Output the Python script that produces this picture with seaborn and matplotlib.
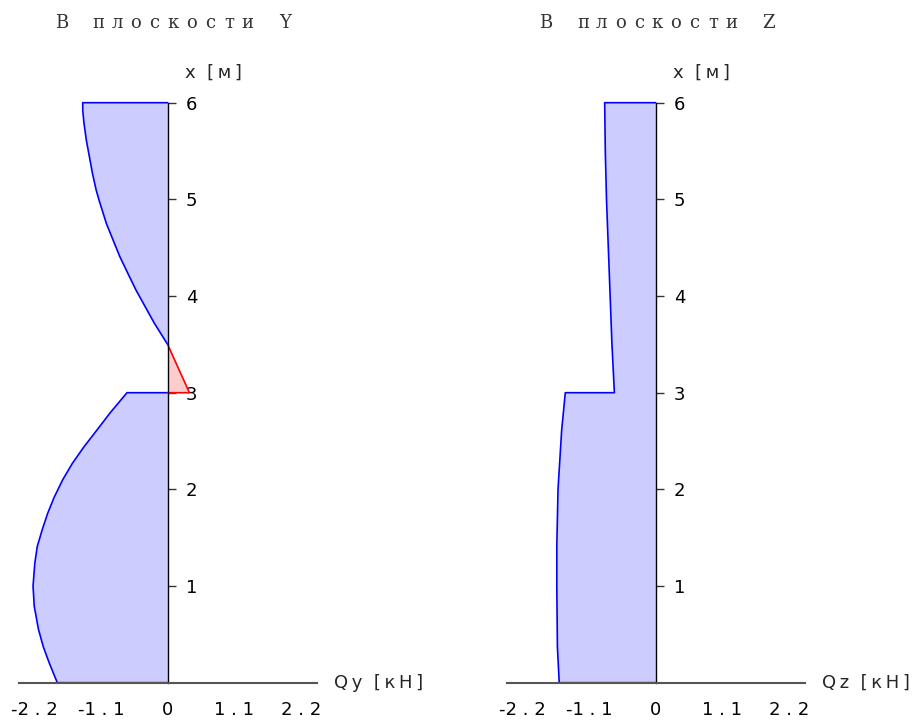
import matplotlib
matplotlib.use("Agg")
import matplotlib.pyplot as plt
import seaborn as sns

# shear force in plane Y, x [m] along the beam, Q [kN]
y_low_x = [0.0, 0.2, 0.37, 0.55, 0.79, 1.0, 1.24, 1.41, 1.58, 1.75, 1.92, 2.10, 2.27, 2.44, 2.61, 2.79, 3.0]
y_low_q = [-1.82, -1.95, -2.05, -2.13, -2.20, -2.22, -2.19, -2.15, -2.07, -1.98, -1.87, -1.73, -1.57, -1.38, -1.17, -0.95, -0.67]
y_pos_x = [3.0, 3.5]
y_pos_q = [0.36, 0.0]
y_up_x = [3.5, 3.72, 3.89, 4.06, 4.24, 4.41, 4.58, 4.75, 4.99, 5.10, 5.27, 5.44, 5.61, 5.79, 5.92, 6.0]
y_up_q = [0.0, -0.22, -0.37, -0.52, -0.66, -0.79, -0.90, -1.01, -1.13, -1.18, -1.24, -1.29, -1.34, -1.38, -1.40, -1.40]

# shear force in plane Z
z_low_x = [0.0, 0.37, 1.0, 1.41, 2.0, 2.61, 3.0]
z_low_q = [-1.59, -1.62, -1.63, -1.63, -1.61, -1.55, -1.49]
z_up_x = [3.0, 3.5, 4.0, 4.5, 5.0, 5.5, 6.0]
z_up_q = [-0.68, -0.72, -0.75, -0.78, -0.81, -0.83, -0.84]

xticks = [-2.2, -1.1, 0, 1.1, 2.2]
xtick_labels = ["-2 . 2", "-1 . 1", "0", "1 . 1", "2 . 2"]
yticks = [1, 2, 3, 4, 5, 6]
titles = ["В плоскости Y", "В плоскости Z"]
q_labels = ["Qy [кН]", "Qz [кН]"]

BLUE, BLUE_FILL = "#0000ff", "#ccccff"
RED, RED_FILL = "#ff0000", "#ffcccc"

sns.set_style("white")
plt.rcParams["font.family"] = ["DejaVu Sans"]


def spaced(s, sep="\u2009"):
    return sep.join(s)


def draw(ax, xs, qs, line_c, fill_c):
    px = [xs[0]] + list(xs) + [xs[-1]]
    pq = [0.0] + list(qs) + [0.0]
    ax.fill_betweenx(px, pq, 0, color=fill_c, lw=0, zorder=1)
    sns.lineplot(x=pq, y=px, sort=False, estimator=None, color=line_c, lw=1.2, ax=ax)
    ax.lines[-1].set_clip_on(False)


W, H = 919, 720
fig = plt.figure(figsize=(W / 100, H / 100), dpi=100)
ax_l = fig.add_axes([18.5 / W, 37.3 / H, 298.2 / W, 580 / H])
ax_r = fig.add_axes([506.5 / W, 37.3 / H, 298.2 / W, 580 / H])

draw(ax_l, y_low_x, y_low_q, BLUE, BLUE_FILL)
draw(ax_l, y_up_x, y_up_q, BLUE, BLUE_FILL)
draw(ax_l, y_pos_x, y_pos_q, RED, RED_FILL)
draw(ax_r, z_low_x + z_up_x, z_low_q + z_up_q, BLUE, BLUE_FILL)

for ax, ql in zip([ax_l, ax_r], q_labels):
    ax.set_xlim(-2.46, 2.46)
    ax.set_ylim(0, 6)
    ax.set_xlabel("")
    ax.set_ylabel("")
    ax.spines["left"].set_visible(False)
    ax.spines["top"].set_visible(False)
    ax.spines["right"].set_position(("data", 0))
    ax.spines["right"].set_bounds(0, 6)
    ax.spines["right"].set_color("black")
    ax.spines["right"].set_linewidth(1.0)
    ax.spines["bottom"].set_color("#555555")
    ax.spines["bottom"].set_linewidth(1.5)
    ax.yaxis.set_ticks_position("right")
    ax.set_yticks(yticks)
    ax.set_yticklabels([str(t) for t in yticks])
    ax.set_xticks(xticks)
    ax.set_xticklabels(xtick_labels)
    ax.tick_params(axis="y", direction="out", length=6, width=1, pad=7,
                   labelsize=13, color="#333333", labelcolor="black")
    ax.tick_params(axis="x", direction="inout", length=7, width=1, pad=9.5,
                   labelsize=13, color="#333333", labelcolor="black")
    ax.text(0.28, 6.31, "x  " + spaced("[м]"), ha="left", va="center", fontsize=13)
    ax.text(2.75, 0, spaced(ql.split()[0]) + "  " + spaced(ql.split()[1]),
            ha="left", va="center", fontsize=13)
    ax.patch.set_alpha(0)

# letter-spaced titles
for t, x0 in zip(titles, [61.5, 545.7]):
    for i, ch in enumerate(t):
        fig.text((x0 + i * 18.6) / W, 1 - 28.3 / H, ch, ha="center", va="baseline",
                 family="DejaVu Serif", fontsize=13, color="#333333")

fig.savefig("out.png", dpi=100)
